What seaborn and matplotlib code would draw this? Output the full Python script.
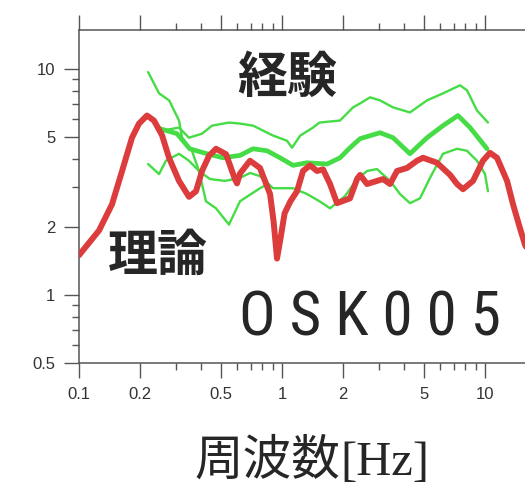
import matplotlib
matplotlib.use('Agg')
import matplotlib.pyplot as plt
import seaborn as sns
import pandas as pd
from matplotlib import font_manager as fm
from matplotlib.ticker import FixedLocator, LogLocator, NullFormatter

# theoretical (red) amplification curve
freq_theory = [0.1, 0.1255, 0.1454, 0.163, 0.1824, 0.1975, 0.2163, 0.234, 0.2564, 0.2776,
               0.3109, 0.3483, 0.3771, 0.4036, 0.4369, 0.4731, 0.53, 0.5868, 0.6004, 0.6209,
               0.6955, 0.779, 0.873, 0.91, 0.945, 0.98, 1.03, 1.1, 1.186, 1.269,
               1.374, 1.488, 1.592, 1.724, 1.866, 2.163, 2.342, 2.424, 2.623, 2.938,
               3.145, 3.404, 3.687, 4.129, 4.624, 4.951, 5.80, 6.73, 7.28, 7.79,
               8.73, 9.77, 10.58, 11.46, 12.84, 13.74, 14.88, 15.74, 16.1]
amp_theory = [1.50, 1.93, 2.52, 3.54, 4.97, 5.74, 6.23, 5.92, 5.1, 4.05,
              3.2, 2.72, 2.88, 3.54, 4.13, 4.44, 4.2, 3.25, 3.12, 3.45,
              3.93, 3.65, 2.8, 2.1, 1.45, 1.75, 2.3, 2.6, 2.88, 3.54,
              3.75, 3.54, 3.60, 3.10, 2.55, 2.68, 3.26, 3.4, 3.10, 3.20,
              3.26, 3.10, 3.54, 3.65, 3.93, 4.05, 3.85, 3.40, 3.10, 2.94,
              3.20, 3.93, 4.26, 4.05, 3.20, 2.52, 1.97, 1.67, 1.6]

# empirical (green) curves
freq_upper = [0.256, 0.311, 0.348, 0.404, 0.452, 0.548, 0.621, 0.720, 0.903, 1.058, 1.12,
              1.23, 1.421, 1.53, 1.93, 2.238, 2.424, 2.714, 3.04, 3.523, 4.27, 5.18,
              6.21, 7.53, 8.15, 9.13, 10.34]
amp_upper = [5.34, 5.51, 4.97, 5.18, 5.62, 5.80, 5.74, 5.62, 5.08, 4.82, 4.49,
             5.08, 5.51, 5.80, 5.92, 6.77, 7.05, 7.50, 7.27, 6.77, 6.43, 7.27,
             7.81, 8.48, 8.06, 6.56, 5.80]

freq_mean = [0.25, 0.304, 0.351, 0.427, 0.512, 0.621, 0.72, 0.844, 0.978, 1.133, 1.328,
             1.667, 1.931, 2.163, 2.424, 3.04, 3.523, 4.27, 5.18, 6.21, 7.36, 8.44, 10.23]
amp_mean = [5.45, 5.18, 4.44, 4.22, 4.05, 4.15, 4.44, 4.35, 4.05, 3.75, 3.85,
            3.80, 4.05, 4.49, 4.92, 5.23, 4.97, 4.22, 4.97, 5.62, 6.23, 5.51, 4.44]

freq_lower = [0.219, 0.248, 0.268, 0.311, 0.348, 0.390, 0.442, 0.524, 0.621, 0.696, 0.779,
              0.903, 1.133, 1.328, 1.53, 1.724, 2.043, 2.342, 2.623, 2.938, 3.404,
              3.813, 4.27, 4.785, 5.358, 6.21, 7.28, 8.15, 9.13, 10.0, 10.34]
amp_lower = [3.80, 3.43, 3.93, 4.22, 3.93, 3.54, 3.26, 3.20, 3.30, 3.47, 3.36,
             2.97, 2.97, 2.80, 2.60, 2.42, 2.74, 3.26, 3.54, 3.61, 3.20,
             2.80, 2.55, 2.68, 3.30, 4.22, 4.44, 4.35, 3.93, 3.43, 2.88]

freq_steep = [0.219, 0.248, 0.278, 0.311, 0.322, 0.360, 0.390, 0.422, 0.473, 0.548, 0.621, 0.779, 0.85]
amp_steep = [9.70, 7.81, 7.27, 5.92, 4.97, 4.35, 3.54, 2.60, 2.42, 2.05, 2.60, 2.97, 3.1]

xticks = [0.1, 0.2, 0.5, 1, 2, 5, 10]
xtick_labels = ['0.1', '0.2', '0.5', '1', '2', '5', '10']
yticks = [0.5, 1, 2, 5, 10]
ytick_labels = ['0.5', '1', '2', '5', '10']

GREEN = '#45dc45'
RED = '#dc3c3c'
GREY = '#555555'

sns.set_style('ticks')
plt.rcParams['font.family'] = ['Liberation Sans', 'DejaVu Sans']


# look for a narrow face for the station code, fall back to DejaVu Sans
def find_narrow_font():
    wanted = ['Liberation Sans Narrow', 'Roboto Condensed', 'DejaVu Sans Condensed',
              'Open Sans Condensed', 'Noto Sans Condensed', 'Noto Sans ExtraCondensed']
    fonts = fm.fontManager.ttflist
    for name in wanted:
        for f in fonts:
            if f.name == name and f.style == 'normal' and f.weight in (400, 'normal', 'regular'):
                return fm.FontProperties(fname=f.fname)
    for f in fonts:
        st = f.stretch
        narrow = st in ('condensed', 'extra-condensed', 'ultra-condensed', 'semi-condensed') or \
            (isinstance(st, int) and st < 500)
        if narrow and f.style == 'normal' and f.weight in (400, 'normal', 'regular') \
                and 'CJK' not in f.name and 'Mono' not in f.name:
            return fm.FontProperties(fname=f.fname)
    return None


fig = plt.figure(figsize=(5.25, 4.88), dpi=100)
ax = fig.add_axes([79 / 525, 125 / 488, 448 / 525, 333 / 488])

green_curves = [(freq_upper, amp_upper, 1.7), (freq_lower, amp_lower, 1.7),
                (freq_steep, amp_steep, 1.7), (freq_mean, amp_mean, 3.4)]
for f, a, lw in green_curves:
    df = pd.DataFrame({'freq': f, 'amp': a})
    sns.lineplot(data=df, x='freq', y='amp', ax=ax, color=GREEN, lw=lw,
                 estimator=None, sort=False, solid_joinstyle='round', solid_capstyle='round')

df_red = pd.DataFrame({'freq': freq_theory, 'amp': amp_theory})
sns.lineplot(data=df_red, x='freq', y='amp', ax=ax, color=RED, lw=4.3,
             estimator=None, sort=False, solid_joinstyle='round', zorder=5)

ax.set_xscale('log')
ax.set_yscale('log')
ax.set_xlim(0.1, 16.1)
ax.set_ylim(0.5, 14.9)
ax.set_xlabel('')
ax.set_ylabel('')

ax.xaxis.set_major_locator(FixedLocator(xticks))
ax.xaxis.set_ticklabels(xtick_labels)
ax.yaxis.set_major_locator(FixedLocator(yticks))
ax.yaxis.set_ticklabels(ytick_labels)
ax.xaxis.set_minor_locator(LogLocator(base=10, subs=range(1, 10)))
ax.yaxis.set_minor_locator(LogLocator(base=10, subs=range(1, 10)))
ax.xaxis.set_minor_formatter(NullFormatter())
ax.yaxis.set_minor_formatter(NullFormatter())

ax.tick_params(which='both', direction='out', top=True, right=True, color=GREY, width=1)
ax.tick_params(which='major', length=11, labelsize=12, labelcolor='#333333', pad=6)
ax.tick_params(which='minor', length=5)
for s in ax.spines.values():
    s.set_color(GREY)
    s.set_linewidth(1.1)

# annotations
ax.text(0.464, 0.856, '経験', transform=ax.transAxes, ha='center', va='center',
        fontsize=36, fontweight='bold', family=['Noto Sans CJK JP'])
ax.text(0.176, 0.321, '理論', transform=ax.transAxes, ha='center', va='center',
        fontsize=36, fontweight='bold', family=['Noto Sans CJK JP'])

narrow = find_narrow_font()
if narrow is not None:
    narrow.set_size(44)
    ax.text(0.65, 0.084, 'O S K 0 0 5', transform=ax.transAxes, ha='center', va='baseline',
            fontproperties=narrow)
else:
    ax.text(0.65, 0.084, 'O S K 0 0 5', transform=ax.transAxes, ha='center', va='baseline',
            fontsize=34, family=['DejaVu Sans'])

# x axis label
fig.text(340 / 525, 13 / 488, '周波数', ha='right', va='baseline', fontsize=35,
         family=['Noto Sans CJK JP'])
fig.text(340 / 525, 13 / 488, '[Hz]', ha='left', va='baseline', fontsize=35,
         family=['Liberation Serif'])

fig.savefig('out.png', dpi=100)
